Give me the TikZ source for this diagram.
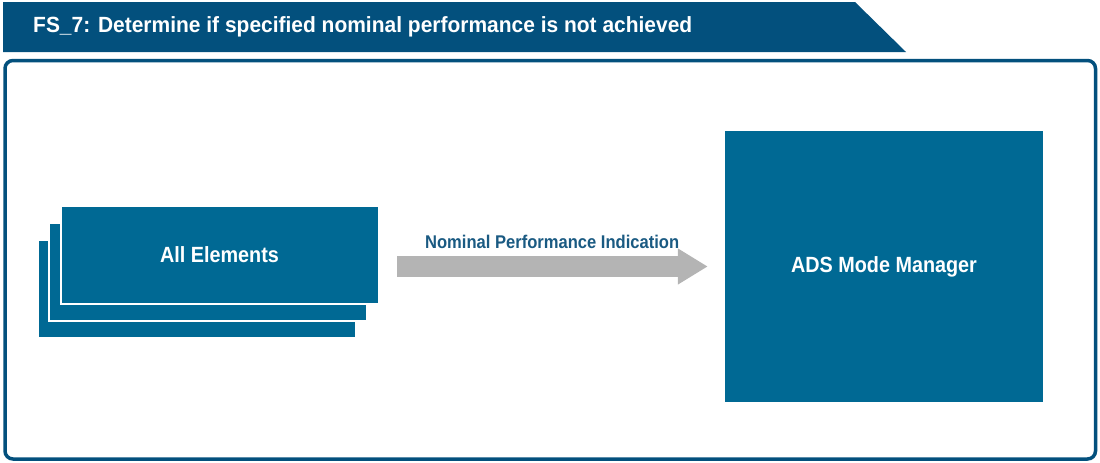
\documentclass[tikz,border=0pt]{standalone}
\usepackage{fontspec}
\newfontfamily\diagfont[FakeStretch=0.9,BoldFeatures={FakeStretch=0.9}]{Liberation Sans}
\newfontfamily\headfont[FakeStretch=0.953,BoldFeatures={FakeStretch=0.953}]{Liberation Sans}
\usepackage{xcolor}
\usepackage{tikz}
\usetikzlibrary{arrows.meta,positioning}

\definecolor{titleblue}{HTML}{03507D}
\definecolor{boxblue}{HTML}{006994}
\definecolor{labelblue}{HTML}{1A5A82}
\definecolor{arrowgray}{HTML}{B4B4B4}

\begin{document}
\begin{tikzpicture}[
    x=1pt, y=-1pt,
    font=\diagfont\bfseries,
    elembox/.style={
      rectangle,
      fill=boxblue,
      draw=white,
      line width=2pt,
      minimum width=318pt,
      minimum height=98pt,
      inner sep=0pt
    },
    fatarrow/.style={
      arrowgray,
      line width=21pt,
      -{Triangle[length=30pt,width=34pt]}
    }
  ]
  \useasboundingbox (0,0) rectangle (1100,463);

  % heading banner
  \fill[titleblue] (3,2) -- (855,2) -- (906,52) -- (3,52) -- cycle;
  \node[anchor=base west, text=white, font=\headfont\bfseries\fontsize{22}{26}\selectfont,
    inner sep=0pt] (title) at (33,32) {FS\_7: Determine if specified nominal performance is not achieved};

  % frame
  \draw[titleblue, line width=3.5pt, rounded corners=8pt] (5,60.5) rectangle (1095.5,459);

  % stack of element boxes
  \node[elembox] (allback) at (196.5,289) {};
  \node[elembox] (allmid) at ([shift={(11.5,-17)}]allback.center) {};
  \node[
    elembox,
    text=white,
    font=\diagfont\bfseries\fontsize{22}{26}\selectfont
  ] (allel) at ([shift={(11.5,-17)}]allmid.center) {All Elements};

  \node[
    rectangle,
    fill=boxblue,
    minimum width=318pt,
    minimum height=271pt,
    text=white,
    font=\diagfont\bfseries\fontsize{22}{26}\selectfont
  ] (ads) at (884,266.5) {ADS Mode Manager};

  \draw[fatarrow, shorten <=17.5pt, shorten >=17pt] (allel.east |- ads.west) -- (ads.west)
    node[pos=0.5, above=18pt, anchor=base, text=labelblue, inner sep=0pt,
      font=\diagfont\bfseries\fontsize{18.4}{22}\selectfont] (flowlabel) {Nominal Performance Indication};
\end{tikzpicture}
\end{document}
